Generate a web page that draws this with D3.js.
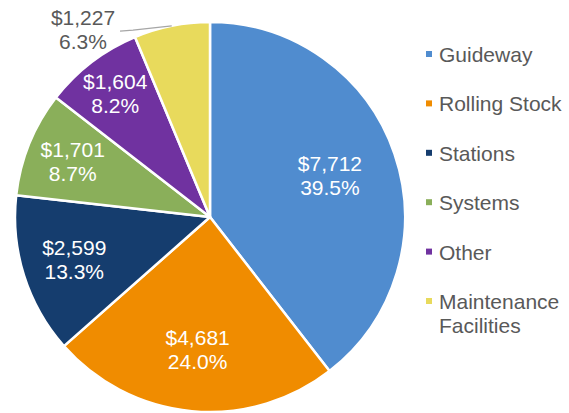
<!DOCTYPE html>
<html>
<head>
<meta charset="utf-8">
<script src="https://cdn.jsdelivr.net/npm/d3@7"></script>
<style>
  html, body { margin: 0; padding: 0; background: #fff; }
  svg { display: block; font-family: "Liberation Sans", Arial, sans-serif; }
</style>
</head>
<body>
<svg id="chart" width="569" height="413"></svg>
<script>
// ---- data ----
const categories = ["Guideway", "Rolling Stock", "Stations", "Systems", "Other", "Maintenance Facilities"];
const values = [7712, 4681, 2599, 1701, 1604, 1227];
const percentLabels = ["39.5%", "24.0%", "13.3%", "8.7%", "8.2%", "6.3%"];
const legendLines = [["Guideway"], ["Rolling Stock"], ["Stations"], ["Systems"], ["Other"], ["Maintenance", "Facilities"]];

// ---- styles / layout ----
const colors = ["#508CCF", "#F08C00", "#153D6E", "#8AAF5A", "#7032A0", "#E8DA5C"];
const labelRadius = [0.65, 0.68, 0.73, 0.76, 0.80, null]; // null => outside label
const cx = 210, cy = 217, R = 195;
const fontSize = 21, lineGap = 24;

const svg = d3.select("#chart");
const g = svg.append("g").attr("transform", `translate(${cx},${cy})`);

const data = categories.map((c, i) => ({ name: c, value: values[i], pct: percentLabels[i], i }));
const pie = d3.pie().sort(null).value(d => d.value);
const arcs = pie(data);
const arc = d3.arc().innerRadius(0).outerRadius(R);

g.selectAll("path.slice")
  .data(arcs)
  .join("path")
  .attr("class", "slice")
  .attr("d", arc)
  .attr("fill", d => colors[d.data.i])
  .attr("stroke", "#fff")
  .attr("stroke-width", 2.5)
  .attr("stroke-linejoin", "round");

const fmt = d3.format("$,");
function polar(a, r) { return [Math.sin(a) * r, -Math.cos(a) * r]; }

function twoLine(sel, x, y, l1, l2, fill) {
  const t = sel.append("text")
    .attr("text-anchor", "middle")
    .attr("font-size", fontSize)
    .attr("fill", fill);
  t.append("tspan").attr("x", x).attr("y", y - 4.5).text(l1);
  t.append("tspan").attr("x", x).attr("y", y - 4.5 + lineGap).text(l2);
}

arcs.forEach(d => {
  const mid = (d.startAngle + d.endAngle) / 2;
  const k = labelRadius[d.data.i];
  if (k !== null) {
    const [x, y] = polar(mid, k * R);
    twoLine(g, x, y, fmt(d.data.value), d.data.pct, "#fff");
  } else {
    // outside label with leader line
    const p0 = polar(mid, R);
    const [tx, ty] = polar(mid - 0.398, R * 1.161);
    const end = [tx + 37, ty + 1.5];
    const elbow = [end[0] + 13, end[1] - 1];
    g.append("path")
      .attr("d", d3.line()([p0, elbow, end]))
      .attr("fill", "none")
      .attr("stroke", "#A6A6A6")
      .attr("stroke-width", 1.3);
    twoLine(g, tx, ty, fmt(d.data.value), d.data.pct, "#595959");
  }
});

// ---- legend ----
const legend = svg.append("g").attr("transform", "translate(426,0)");
const rowY = d3.scaleLinear().domain([0, 5]).range([62, 309]);
legendLines.forEach((lines, i) => {
  const base = rowY(i);
  legend.append("rect")
    .attr("x", 0).attr("y", base - 11)
    .attr("width", 6).attr("height", 6)
    .attr("fill", colors[i]);
  const t = legend.append("text")
    .attr("font-size", fontSize)
    .attr("fill", "#595959");
  lines.forEach((ln, j) => {
    t.append("tspan").attr("x", 13).attr("y", base + j * lineGap).text(ln);
  });
});
</script>
</body>
</html>
